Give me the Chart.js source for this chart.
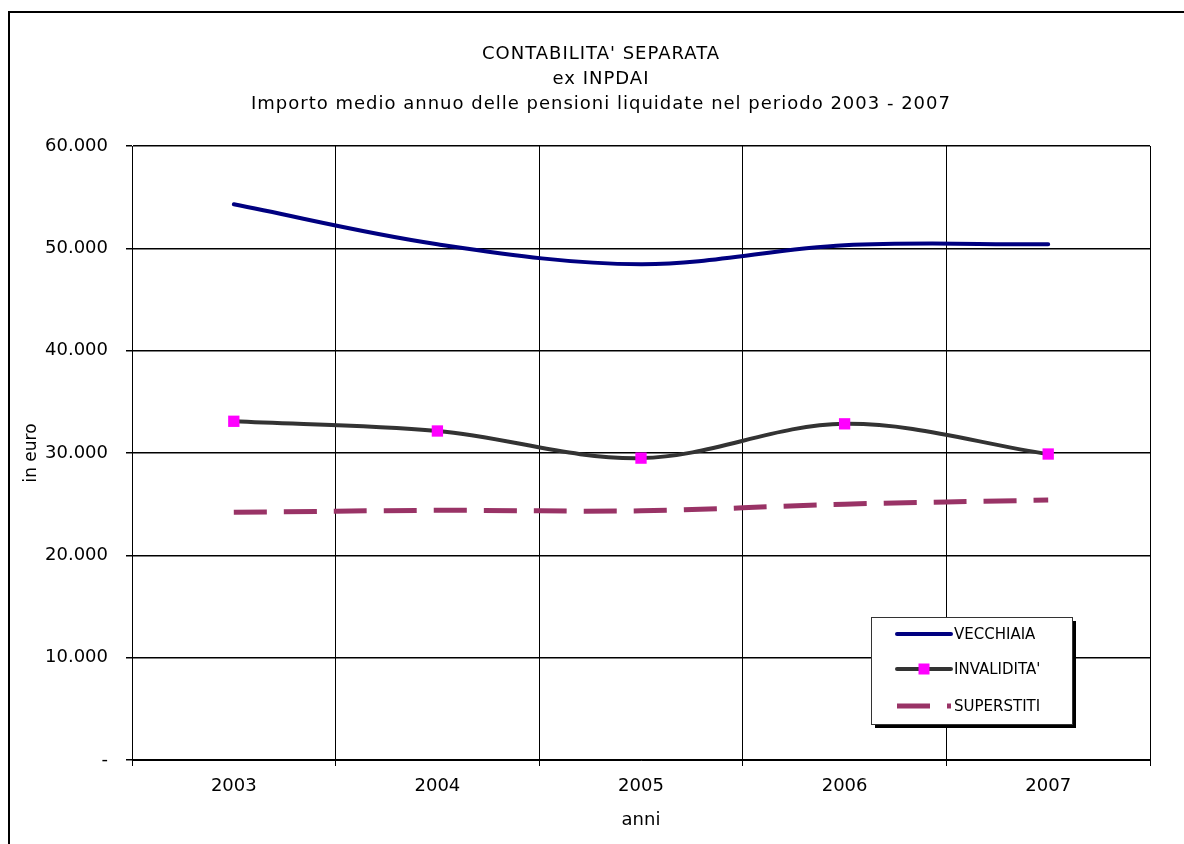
<!DOCTYPE html>
<html lang="it">
<head>
    <meta charset="UTF-8">
    <title>Contabilita' separata ex INPDAI</title>
    <script src="https://cdn.jsdelivr.net/npm/chart.js"></script>
    <style>
        html, body { margin: 0; padding: 0; background: #fff; }
        #wrap { width: 1184px; height: 844px; position: relative; }
    </style>
</head>
<body>
    <div id="wrap">
        <canvas id="grafico" width="1184" height="844"></canvas>
    </div>

    <script>
        // dati
        const anni = ['2003', '2004', '2005', '2006', '2007'];
        const vecchiaia = [54300, 50400, 48450, 50300, 50400];
        const invalidita = [33100, 32150, 29500, 32850, 29900];
        const superstiti = [24200, 24400, 24350, 25000, 25400];
        const titolo = ["CONTABILITA' SEPARATA", 'ex INPDAI', 'Importo medio annuo delle pensioni liquidate nel periodo 2003 - 2007'];

        const FONT = '"DejaVu Sans", Verdana, sans-serif';

        function formatta(v) {
            if (v === 0) return '-';
            return String(v).replace(/\B(?=(\d{3})+(?!\d))/g, '.');
        }

        // cornice esterna, titolo e legenda disegnati a mano
        const decorazioni = {
            id: 'decorazioni',
            beforeDraw(chart) {
                const ctx = chart.ctx;
                ctx.save();
                ctx.strokeStyle = '#000';
                ctx.lineWidth = 2;
                ctx.beginPath();
                ctx.moveTo(9, 900);
                ctx.lineTo(9, 12);
                ctx.lineTo(1200, 12);
                ctx.stroke();

                ctx.fillStyle = '#000';
                ctx.font = '18px ' + FONT;
                ctx.letterSpacing = '1px';
                ctx.textAlign = 'center';
                ctx.textBaseline = 'middle';
                titolo.forEach((t, i) => ctx.fillText(t, 601, 54 + i * 25));
                ctx.restore();
            },
            afterDraw(chart) {
                const ctx = chart.ctx;
                const x = 871, y = 617, w = 201, h = 107;
                ctx.save();
                ctx.fillStyle = '#000';
                ctx.fillRect(x + 4, y + 4, w, h);
                ctx.fillStyle = '#fff';
                ctx.fillRect(x, y, w, h);
                ctx.strokeStyle = '#333';
                ctx.lineWidth = 1;
                ctx.strokeRect(x + 0.5, y + 0.5, w, h);

                const righe = [634, 669, 706];
                ctx.font = '15px ' + FONT;
                ctx.textBaseline = 'middle';
                ctx.textAlign = 'left';
                chart.data.datasets.forEach((ds, i) => {
                    const ly = righe[i];
                    ctx.strokeStyle = ds.borderColor;
                    ctx.lineWidth = ds.borderWidth;
                    ctx.lineCap = ds.borderDash ? 'butt' : 'round';
                    ctx.setLineDash(ds.borderDash || []);
                    ctx.beginPath();
                    ctx.moveTo(897, ly);
                    ctx.lineTo(951, ly);
                    ctx.stroke();
                    ctx.setLineDash([]);
                    if (ds.pointRadius > 0) {
                        ctx.fillStyle = ds.pointBackgroundColor;
                        ctx.fillRect(924 - 5.5, ly - 5.5, 11, 11);
                    }
                    ctx.fillStyle = '#000';
                    ctx.fillText(ds.label, 954, ly + 1);
                });
                ctx.restore();
            }
        };

        const ctx = document.getElementById('grafico').getContext('2d');
        const grafico = new Chart(ctx, {
            type: 'line',
            data: {
                labels: anni,
                datasets: [{
                    label: 'VECCHIAIA',
                    data: vecchiaia,
                    borderColor: '#000080',
                    borderWidth: 4,
                    pointRadius: 0,
                    borderCapStyle: 'round',
                    tension: 0.35
                }, {
                    label: "INVALIDITA'",
                    data: invalidita,
                    borderColor: '#333333',
                    borderWidth: 4,
                    pointStyle: 'rect',
                    pointRadius: 8,
                    pointBackgroundColor: '#FF00FF',
                    pointBorderColor: '#FF00FF',
                    pointBorderWidth: 0,
                    tension: 0.35
                }, {
                    label: 'SUPERSTITI',
                    data: superstiti,
                    borderColor: '#993366',
                    borderWidth: 5,
                    borderDash: [33, 17],
                    pointRadius: 0,
                    tension: 0.35
                }]
            },
            options: {
                responsive: false,
                animation: false,
                layout: { padding: { left: 8, right: 34, top: 146, bottom: 0 } },
                plugins: {
                    legend: { display: false },
                    title: { display: false },
                    tooltip: { enabled: false }
                },
                scales: {
                    x: {
                        offset: true,
                        grid: { offset: true, color: '#000', lineWidth: 1, tickLength: 6, tickColor: '#000' },
                        border: { color: '#000', width: 1 },
                        ticks: { color: '#000', font: { family: FONT, size: 18 }, padding: 10, maxRotation: 0 },
                        title: { display: true, text: 'anni', color: '#000', font: { family: FONT, size: 18 }, padding: { top: 0, bottom: 13 } },
                        afterFit(s) { s.height = 84; }
                    },
                    y: {
                        min: 0,
                        max: 60000,
                        ticks: { stepSize: 10000, color: '#000', font: { family: FONT, size: 18 }, padding: 18, callback: formatta },
                        grid: { color: '#000', lineWidth: 1.5, tickLength: 6, tickColor: '#000' },
                        border: { color: '#000', width: 1 },
                        title: { display: true, text: 'in euro', color: '#000', font: { family: FONT, size: 17 }, padding: { top: 13, bottom: 0 } },
                        afterFit(s) { s.width = 124; }
                    }
                }
            },
            plugins: [decorazioni]
        });
    </script>
</body>
</html>
